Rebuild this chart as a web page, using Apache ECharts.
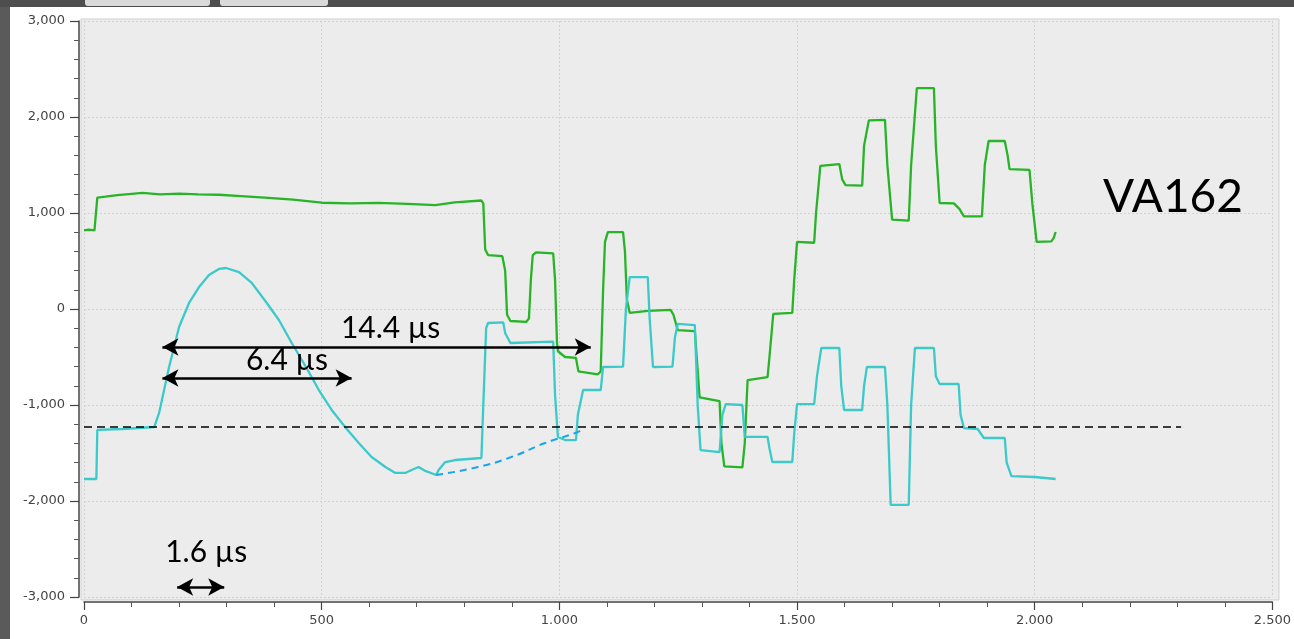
<!DOCTYPE html>
<html>
<head>
<meta charset="utf-8">
<title>VA162</title>
<script src="https://cdn.jsdelivr.net/npm/echarts@6/dist/echarts.min.js"></script>
<style>
  html, body { margin: 0; padding: 0; background: #ffffff; }
  #chart { width: 1294px; height: 639px; }
</style>
</head>
<body>
<div id="chart"></div>
<script>
// Axis ranges
const xRange = [0, 2500];
const yRange = [-3000, 3000];

// Green trace [sample, value]
const greenTrace = [
  [0, 820], [10, 826], [22, 818], [26, 830], [28, 1160], [45, 1170], [70, 1186], [100, 1200],
  [123, 1210], [160, 1195], [200, 1202], [240, 1194], [284, 1190], [330, 1176], [380, 1160],
  [440, 1140], [500, 1107], [560, 1100], [620, 1105], [680, 1095], [739, 1083], [780, 1110],
  [836, 1130], [840, 1100], [844, 620], [850, 562], [880, 550], [884, 531], [886, 400],
  [890, -60], [897, -125], [930, -135], [936, -100], [940, 300], [944, 560], [951, 590],
  [987, 580], [991, 300], [995, -350], [997, -440], [1012, -500], [1035, -510], [1040, -650],
  [1081, -680], [1087, -650], [1092, 200], [1096, 700], [1102, 800], [1134, 800], [1138, 600],
  [1142, 100], [1148, -40], [1186, -20], [1234, -10], [1240, -60], [1249, -220], [1285, -230],
  [1289, -500], [1295, -920], [1337, -960], [1341, -1400], [1347, -1640], [1385, -1650],
  [1390, -1400], [1396, -740], [1438, -710], [1442, -500], [1450, -50], [1490, -40],
  [1494, 300], [1500, 700], [1536, 690], [1540, 1000], [1549, 1490], [1589, 1510],
  [1595, 1350], [1602, 1290], [1637, 1285], [1641, 1700], [1651, 1965], [1685, 1970],
  [1690, 1500], [1700, 930], [1735, 920], [1740, 1500], [1752, 2300], [1788, 2300],
  [1792, 1700], [1800, 1104], [1830, 1100], [1842, 1040], [1851, 965], [1889, 965],
  [1895, 1500], [1903, 1750], [1937, 1750], [1943, 1600], [1947, 1458], [1989, 1450],
  [1995, 1100], [2004, 700], [2035, 705], [2040, 740], [2044, 802]
];

// Cyan trace [sample, value]
const cyanTrace = [
  [0, -1771], [26, -1771], [28, -1260], [80, -1250], [148, -1229], [158, -1083], [179, -604],
  [200, -187], [221, 63], [242, 229], [263, 354], [284, 417], [299, 427], [326, 385],
  [353, 271], [383, 73], [410, -115], [437, -354], [467, -604], [494, -844], [521, -1052],
  [551, -1240], [578, -1396], [605, -1542], [634, -1646], [655, -1708], [676, -1708],
  [689, -1677], [704, -1646], [718, -1687], [741, -1729], [746, -1677], [760, -1594],
  [781, -1573], [836, -1552], [840, -1000], [846, -200], [850, -146], [882, -140],
  [886, -250], [897, -354], [987, -340], [991, -900], [997, -1333], [1012, -1365],
  [1035, -1365], [1039, -1100], [1050, -844], [1087, -844], [1092, -604], [1134, -600],
  [1140, 0], [1148, 333], [1186, 333], [1190, -100], [1197, -604], [1238, -600],
  [1243, -300], [1249, -156], [1285, -167], [1291, -1000], [1297, -1469], [1337, -1490],
  [1343, -1100], [1350, -990], [1385, -1000], [1390, -1333], [1438, -1333], [1442, -1450],
  [1448, -1594], [1490, -1594], [1494, -1300], [1500, -990], [1536, -990], [1542, -700],
  [1551, -406], [1589, -406], [1593, -800], [1599, -1052], [1637, -1052], [1641, -800],
  [1647, -604], [1685, -604], [1690, -1000], [1697, -2040], [1735, -2040], [1740, -1000],
  [1748, -406], [1788, -406], [1792, -700], [1800, -781], [1840, -781], [1844, -1100],
  [1851, -1240], [1880, -1250], [1893, -1344], [1937, -1344], [1941, -1600], [1951, -1740],
  [2000, -1750], [2044, -1771]
];

// Dashed reference level and extrapolated baseline
const thresholdLine = [[0, -1229], [2308, -1229]];
const baselineCurve = [[741, -1729], [829, -1646], [899, -1542], [970, -1396], [1039, -1281], [1050, -1240]];

// Timing spans: [start, end, level]
const spans = [
  [165, 1066, -396],
  [165, 563, -719],
  [196, 295, -2896]
];

// Text annotations: [x, y, text, size]
const notes = [
  [645, -198, '14.4 µs', 30],
  [427, -531, '6.4 µs', 30],
  [257, -2531, '1.6 µs', 30],
  [2291, 1167, 'VA162', 46]
];

const chart = echarts.init(document.getElementById('chart'), null, { renderer: 'canvas' });

const fmtY = v => v.toLocaleString('en-US');
const fmtX = v => v.toLocaleString('en-US').replace(',', '.');

const option = {
  animation: false,
  backgroundColor: '#ffffff',
  graphic: [
    { type: 'rect', z: -1, shape: { x: 81, y: 19, width: 1198, height: 581 },
      style: { fill: '#ececec', stroke: '#cfcfcf', lineWidth: 1 } },
    { type: 'rect', z: 10, shape: { x: 0, y: 0, width: 10, height: 639 }, style: { fill: '#5a5a5a' } },
    { type: 'rect', z: 10, shape: { x: 0, y: 0, width: 1294, height: 7 }, style: { fill: '#4e4e4e' } },
    { type: 'rect', z: 11, shape: { x: 85, y: 0, width: 125, height: 6, r: [0, 0, 3, 3] }, style: { fill: '#dadada' } },
    { type: 'rect', z: 11, shape: { x: 220, y: 0, width: 108, height: 6, r: [0, 0, 3, 3] }, style: { fill: '#dadada' } }
  ],
  grid: { left: 84, right: 17, top: 21, bottom: 42, containLabel: false },
  xAxis: {
    type: 'value', min: xRange[0], max: xRange[1], interval: 500,
    offset: 5,
    axisLine: { show: true, onZero: false, lineStyle: { color: '#444', width: 1.5 } },
    axisTick: { show: true, length: 8, lineStyle: { color: '#444', width: 1.2 } },
    minorTick: { show: true, splitNumber: 5, length: 5, lineStyle: { color: '#555', width: 1 } },
    splitLine: { show: true, lineStyle: { color: '#d2d2d2', type: [2, 2], width: 1 } },
    axisLabel: { formatter: fmtX, color: '#444', fontSize: 13, fontFamily: 'DejaVu Sans', margin: 12 }
  },
  yAxis: {
    type: 'value', min: yRange[0], max: yRange[1], interval: 1000,
    offset: 5,
    axisLine: { show: true, onZero: false, lineStyle: { color: '#444', width: 1.5 } },
    axisTick: { show: true, length: 9, lineStyle: { color: '#444', width: 1.2 } },
    minorTick: { show: true, splitNumber: 5, length: 5, lineStyle: { color: '#555', width: 1 } },
    splitLine: { show: true, lineStyle: { color: '#d2d2d2', type: [2, 2], width: 1 } },
    axisLabel: { formatter: fmtY, color: '#444', fontSize: 13, fontFamily: 'DejaVu Sans', margin: 14 }
  },
  series: [
    {
      name: 'green', type: 'line', data: greenTrace, showSymbol: false, z: 3,
      lineStyle: { color: '#27b427', width: 2.3 }
    },
    {
      name: 'cyan', type: 'line', data: cyanTrace, showSymbol: false, z: 3,
      lineStyle: { color: '#3cc9c9', width: 2.3 }
    },
    {
      name: 'threshold', type: 'line', data: thresholdLine, showSymbol: false, z: 4,
      lineStyle: { color: '#000000', width: 1.5, type: [8, 5] }
    },
    {
      name: 'baseline', type: 'line', data: baselineCurve, showSymbol: false, smooth: true, z: 4,
      lineStyle: { color: '#1aa6ec', width: 2, type: [7, 5] }
    },
    {
      name: 'spans', type: 'line', data: [], z: 5,
      markLine: {
        silent: true,
        symbol: ['arrow', 'arrow'],
        symbolSize: [13, 16],
        label: { show: false },
        lineStyle: { color: '#000000', width: 2.5, type: 'solid' },
        data: spans.map(s => [{ coord: [s[0], s[2]] }, { coord: [s[1], s[2]] }])
      }
    },
    {
      name: 'notes', type: 'scatter', symbolSize: 0, z: 6, silent: true,
      data: notes.map(n => ({
        value: [n[0], n[1]], name: n[2],
        label: { fontSize: n[3] }
      })),
      label: {
        show: true, position: 'inside', formatter: p => p.name,
        color: '#000000', fontFamily: 'Lato', fontWeight: 'normal', opacity: 1
      }
    }
  ]
};

chart.setOption(option);
</script>
</body>
</html>
